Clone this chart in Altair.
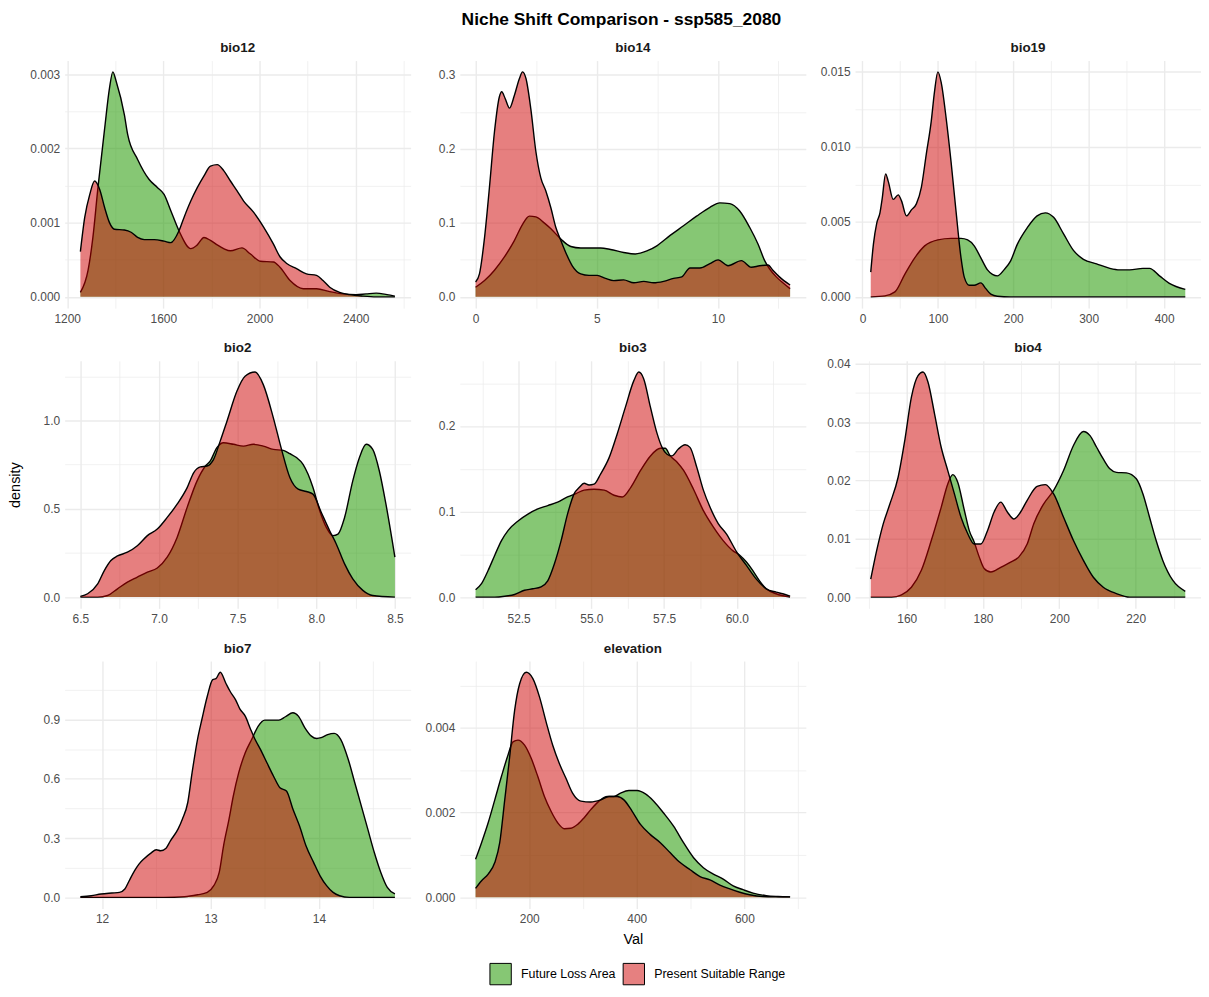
import math
import altair as alt
import pandas as pd

FONT = "Liberation Sans"
GROUPS = ["Future Loss Area", "Present Suitable Range"]
FILL_COLORS = ["#239902", "#CD0000"]
FILL_OPACITY = [0.55, 0.5]
LEGEND_COLORS = ["#86C774", "#E68080"]    # the same colours as seen over white

# ---------------- bio12 ----------------
BIO12_FUT_X = [1255, 1287, 1307, 1328, 1356, 1376, 1390, 1404, 1438, 1452, 1493, 1541, 1576, 1603, 1631, 1665,
               1714, 1741, 1769, 1796, 1824, 1851, 1879, 1927, 1961, 2003, 2058, 2085, 2127, 2182, 2237, 2292,
               2347, 2402, 2443, 2485, 2530, 2563]
BIO12_FUT_Y = [0.00006, 0.00036, 0.00080, 0.00147, 0.00227, 0.00281, 0.00303, 0.00290, 0.00245, 0.00218,
               0.00185, 0.00158, 0.00147, 0.00138, 0.00116, 0.00089, 0.00065, 0.00070, 0.00080, 0.00076,
               0.00070, 0.00065, 0.00062, 0.00066, 0.00058, 0.00048, 0.00047, 0.00040, 0.00022, 0.00011,
               0.00011, 0.00007, 0.00004, 0.00003, 0.00004, 0.00005, 0.00003, 0.00001]
BIO12_PRE_X = [1255, 1273, 1294, 1314, 1335, 1356, 1376, 1397, 1438, 1466, 1493, 1521, 1562, 1603, 1631, 1665,
               1686, 1714, 1741, 1769, 1796, 1824, 1851, 1879, 1906, 1934, 1975, 2017, 2058, 2085, 2113, 2154,
               2195, 2237, 2264, 2292, 2333, 2374, 2430, 2485, 2563]
BIO12_PRE_Y = [0.00061, 0.00107, 0.00138, 0.00156, 0.00145, 0.00120, 0.00100, 0.00091, 0.00090, 0.00087,
               0.00080, 0.00077, 0.00077, 0.00075, 0.00073, 0.00089, 0.00107, 0.00129, 0.00147, 0.00163,
               0.00176, 0.00178, 0.00170, 0.00156, 0.00143, 0.00129, 0.00114, 0.00094, 0.00071, 0.00054,
               0.00045, 0.00038, 0.00031, 0.00029, 0.00022, 0.00013, 0.00006, 0.00003, 0.00001, 0.0, 0.0]

# ---------------- bio14 ----------------
BIO14_FUT_X = [0, 0.37, 0.78, 1.19, 1.60, 1.94, 2.22, 2.49, 2.83, 3.11, 3.52, 3.93, 4.34, 4.75, 5.16, 5.57,
               6.11, 6.59, 7.07, 7.48, 8.03, 8.58, 9.12, 9.67, 10.08, 10.49, 10.90, 11.31, 11.66, 11.93, 12.13,
               12.41, 12.68, 12.98]
BIO14_FUT_Y = [0.013, 0.022, 0.036, 0.054, 0.076, 0.098, 0.109, 0.108, 0.100, 0.092, 0.078, 0.068, 0.066,
               0.066, 0.066, 0.064, 0.060, 0.058, 0.062, 0.069, 0.083, 0.096, 0.109, 0.121, 0.127, 0.126,
               0.116, 0.094, 0.071, 0.049, 0.038, 0.027, 0.019, 0.011]
BIO14_PRE_X = [0, 0.16, 0.37, 0.57, 0.78, 0.98, 1.08, 1.22, 1.40, 1.60, 1.81, 1.94, 2.08, 2.28, 2.49, 2.69,
               2.90, 3.11, 3.31, 3.52, 3.72, 3.99, 4.34, 4.68, 5.02, 5.36, 5.70, 6.11, 6.53, 6.94, 7.35, 7.76,
               8.17, 8.51, 8.85, 9.26, 9.67, 10.01, 10.42, 10.97, 11.38, 11.72, 12.07, 12.27, 12.54, 12.98]
BIO14_PRE_Y = [0.020, 0.031, 0.080, 0.147, 0.223, 0.270, 0.277, 0.268, 0.255, 0.272, 0.295, 0.304, 0.295,
               0.254, 0.196, 0.161, 0.143, 0.120, 0.094, 0.076, 0.060, 0.042, 0.031, 0.029, 0.029, 0.025,
               0.022, 0.023, 0.019, 0.021, 0.019, 0.021, 0.025, 0.027, 0.039, 0.039, 0.045, 0.050, 0.042,
               0.049, 0.040, 0.042, 0.043, 0.036, 0.027, 0.016]

# ---------------- bio19 ----------------
BIO19_FUT_X = [11, 29.8, 43, 56.1, 69.3, 82.5, 100, 117.5, 130.7, 139.5, 148.2, 157, 165.8, 172.4, 178.9,
               187.7, 196.5, 205.3, 218.4, 231.6, 242.5, 253.5, 266.7, 279.8, 293, 310.5, 328.1, 341.2, 354.4,
               371.9, 380.7, 393.9, 407, 428.1]
BIO19_FUT_Y = [0.0, 0.00007, 0.00033, 0.0015, 0.0026, 0.0034, 0.0038, 0.0039, 0.0039, 0.0038, 0.0034, 0.0026,
               0.0018, 0.0015, 0.0014, 0.0018, 0.0024, 0.0035, 0.0046, 0.0054, 0.0056, 0.0053, 0.0042, 0.0031,
               0.0025, 0.0022, 0.0019, 0.0018, 0.0018, 0.0019, 0.0019, 0.0014, 0.0009, 0.0005]
BIO19_PRE_X = [11, 14.5, 18.9, 23.2, 26.3, 30.7, 34.2, 40.8, 47.4, 51.8, 58.3, 64.9, 71.5, 78.1, 84.6, 91.2,
               95.6, 100, 104.4, 111, 117.5, 124.1, 130.7, 135.1, 141.7, 148.2, 157, 163.6, 170.2, 178.9,
               196.5, 250, 350, 428.1]
BIO19_PRE_Y = [0.00165, 0.0035, 0.0049, 0.0056, 0.0066, 0.0082, 0.0077, 0.0065, 0.0068, 0.0064, 0.0054,
               0.0058, 0.0062, 0.0073, 0.0095, 0.0117, 0.0137, 0.0150, 0.0143, 0.0119, 0.0090, 0.0057, 0.0026,
               0.0013, 0.00077, 0.00077, 0.00093, 0.00055, 0.00018, 0.00004, 0.0, 0.0, 0.0, 0.0]

# ---------------- bio2 ----------------
BIO2_FUT_X = [6.5, 6.61, 6.673, 6.736, 6.799, 6.862, 6.926, 6.989, 7.052, 7.115, 7.179, 7.242, 7.295, 7.326,
              7.368, 7.41, 7.474, 7.537, 7.6, 7.663, 7.727, 7.79, 7.832, 7.874, 7.916, 7.948, 7.979, 8.022,
              8.064, 8.106, 8.138, 8.18, 8.232, 8.274, 8.317, 8.359, 8.401, 8.443, 8.5]
BIO2_FUT_Y = [0.0, 0.0, 0.009, 0.047, 0.085, 0.113, 0.141, 0.165, 0.226, 0.338, 0.508, 0.658, 0.742, 0.771,
              0.846, 0.874, 0.865, 0.855, 0.865, 0.855, 0.836, 0.831, 0.812, 0.790, 0.752, 0.695, 0.620, 0.489,
              0.395, 0.348, 0.357, 0.451, 0.658, 0.789, 0.865, 0.836, 0.714, 0.526, 0.226]
BIO2_PRE_X = [6.5, 6.546, 6.61, 6.652, 6.694, 6.736, 6.799, 6.862, 6.926, 6.989, 7.052, 7.115, 7.179, 7.221,
              7.263, 7.305, 7.347, 7.389, 7.432, 7.495, 7.547, 7.611, 7.663, 7.727, 7.779, 7.832, 7.885, 7.937,
              7.979, 8.032, 8.085, 8.127, 8.18, 8.232, 8.296, 8.359, 8.5]
BIO2_PRE_Y = [0.004, 0.019, 0.075, 0.150, 0.207, 0.233, 0.254, 0.291, 0.348, 0.385, 0.451, 0.526, 0.620, 0.705,
              0.737, 0.742, 0.780, 0.883, 0.996, 1.165, 1.250, 1.274, 1.203, 1.015, 0.836, 0.677, 0.611, 0.598,
              0.583, 0.479, 0.376, 0.301, 0.188, 0.103, 0.038, 0.009, 0.0]

# ---------------- bio3 ----------------
BIO3_FUT_X = [51.02, 51.23, 51.45, 51.68, 51.91, 52.14, 52.48, 52.82, 53.16, 53.50, 53.84, 54.18, 54.47, 54.75,
              55.09, 55.44, 55.78, 56.06, 56.35, 56.69, 57.03, 57.37, 57.54, 57.71, 57.94, 58.17, 58.51, 58.85,
              59.19, 59.53, 59.87, 60.10, 60.33, 60.55, 60.78, 61.01, 61.35, 61.83]
BIO3_FUT_Y = [0.0086, 0.016, 0.031, 0.049, 0.066, 0.078, 0.089, 0.097, 0.103, 0.107, 0.111, 0.117, 0.121,
              0.125, 0.126, 0.125, 0.119, 0.117, 0.128, 0.148, 0.165, 0.174, 0.174, 0.165, 0.158, 0.148, 0.126,
              0.101, 0.082, 0.066, 0.054, 0.049, 0.041, 0.031, 0.019, 0.0097, 0.0039, 0.0]
BIO3_PRE_X = [51.02, 51.68, 52.02, 52.36, 52.70, 52.99, 53.27, 53.50, 53.73, 53.96, 54.18, 54.41, 54.58, 54.75,
              54.92, 55.09, 55.32, 55.61, 55.89, 56.17, 56.46, 56.63, 56.80, 57.03, 57.26, 57.43, 57.60, 57.77,
              57.99, 58.22, 58.39, 58.62, 58.85, 59.08, 59.36, 59.64, 59.99, 60.33, 60.67, 61.01, 61.35, 61.58,
              61.83]
BIO3_PRE_Y = [0.0, 0.0, 0.001, 0.003, 0.008, 0.0097, 0.012, 0.019, 0.039, 0.066, 0.097, 0.121, 0.128, 0.133,
              0.131, 0.132, 0.144, 0.163, 0.191, 0.222, 0.253, 0.263, 0.255, 0.222, 0.191, 0.175, 0.167, 0.165,
              0.173, 0.178, 0.175, 0.152, 0.125, 0.105, 0.086, 0.074, 0.053, 0.037, 0.021, 0.0097, 0.0058,
              0.0039, 0.0012]

# ---------------- bio4 ----------------
BIO4_FUT_X = [150.55, 156.01, 158.61, 161.21, 163.82, 166.42, 169.02, 170.75, 172.06, 173.36, 175.09, 176.39,
              177.69, 178.99, 180.29, 182.03, 184.63, 187.23, 189.4, 191.57, 193.3, 195.91, 198.51, 201.11,
              203.71, 206.31, 208.05, 209.78, 211.52, 213.25, 214.99, 217.59, 220.19, 221.93, 223.66, 225.39,
              227.13, 229.73, 233.03]
BIO4_FUT_Y = [0.0, 0.0, 0.0004, 0.0017, 0.0046, 0.0097, 0.0154, 0.0194, 0.0210, 0.0197, 0.0149, 0.0114,
              0.0094, 0.0069, 0.0049, 0.0043, 0.0051, 0.0060, 0.0069, 0.0091, 0.0126, 0.0160, 0.0183, 0.0217,
              0.0260, 0.0284, 0.0277, 0.0257, 0.0237, 0.0220, 0.0214, 0.0213, 0.0203, 0.0177, 0.0137, 0.0097,
              0.0063, 0.0029, 0.0010]
BIO4_PRE_X = [150.55, 152.11, 153.84, 155.58, 157.74, 159.48, 161.21, 162.95, 164.25, 165.55, 167.29, 169.02,
              170.75, 172.49, 174.22, 175.96, 177.69, 179.43, 181.16, 182.9, 184.63, 186.37, 188.1, 189.84,
              191.57, 194.17, 196.34, 198.51, 201.11, 203.71, 206.31, 208.92, 211.52, 214.99, 218.46, 233.03]
BIO4_PRE_Y = [0.0031, 0.0080, 0.0126, 0.0160, 0.0206, 0.0269, 0.0343, 0.0380, 0.0386, 0.0369, 0.0314, 0.0257,
              0.0217, 0.0177, 0.0137, 0.0109, 0.0091, 0.0091, 0.0114, 0.0146, 0.0163, 0.0146, 0.0134, 0.0146,
              0.0166, 0.0190, 0.0193, 0.0177, 0.0137, 0.0097, 0.0063, 0.0034, 0.0017, 0.0006, 0.0, 0.0]

# ---------------- bio7 ----------------
BIO7_FUT_X = [11.80, 12.57, 12.76, 12.88, 12.97, 13.03, 13.08, 13.12, 13.17, 13.21, 13.26, 13.32, 13.38, 13.44,
              13.50, 13.56, 13.63, 13.69, 13.76, 13.81, 13.87, 13.93, 13.98, 14.02, 14.08, 14.14, 14.20, 14.27,
              14.33, 14.39, 14.45, 14.51, 14.57, 14.63, 14.70]
BIO7_FUT_Y = [0.0, 0.0, 0.003, 0.013, 0.025, 0.059, 0.126, 0.261, 0.395, 0.513, 0.631, 0.732, 0.800, 0.867,
              0.897, 0.897, 0.897, 0.914, 0.934, 0.917, 0.858, 0.816, 0.804, 0.808, 0.824, 0.830, 0.800, 0.698,
              0.580, 0.463, 0.345, 0.227, 0.126, 0.050, 0.017]
BIO7_PRE_X = [11.80, 11.90, 11.99, 12.09, 12.16, 12.21, 12.25, 12.30, 12.34, 12.39, 12.45, 12.50, 12.54, 12.59,
              12.63, 12.70, 12.74, 12.79, 12.83, 12.88, 12.92, 12.97, 13.02, 13.05, 13.09, 13.14, 13.18, 13.23,
              13.27, 13.32, 13.37, 13.41, 13.46, 13.52, 13.58, 13.64, 13.70, 13.76, 13.82, 13.88, 13.95, 14.01,
              14.07, 14.13, 14.19, 14.28, 14.70]
BIO7_PRE_Y = [0.003, 0.008, 0.017, 0.022, 0.025, 0.042, 0.084, 0.135, 0.168, 0.197, 0.224, 0.241, 0.236, 0.249,
              0.286, 0.345, 0.395, 0.480, 0.631, 0.800, 0.900, 1.018, 1.102, 1.107, 1.139, 1.085, 1.043, 1.001,
              0.954, 0.917, 0.850, 0.800, 0.749, 0.681, 0.614, 0.555, 0.538, 0.446, 0.362, 0.261, 0.177, 0.109,
              0.059, 0.025, 0.008, 0.0, 0.0]

# ---------------- elevation ----------------
ELEV_FUT_X = [100.3, 111.4, 123.7, 136, 148.3, 160.6, 169.8, 179.1, 191.4, 203.7, 216, 228.3, 240.6, 252.9,
              265.2, 277.5, 289.8, 302.2, 314.5, 329.8, 345.2, 357.5, 369.8, 385.2, 400.6, 416, 431.4, 449.8,
              468.3, 486.8, 505.2, 523.7, 542.2, 560.6, 579.1, 597.5, 616, 640.6, 662.2, 684.9]
ELEV_FUT_Y = [0.00090, 0.00129, 0.00176, 0.00230, 0.00285, 0.00336, 0.00367, 0.00371, 0.00359, 0.00328,
              0.00285, 0.00238, 0.00203, 0.00176, 0.00162, 0.00163, 0.00172, 0.00188, 0.00207, 0.00227,
              0.00238, 0.00238, 0.00246, 0.00252, 0.00252, 0.00244, 0.00227, 0.00199, 0.00168, 0.00129,
              0.00094, 0.00070, 0.00055, 0.00043, 0.00027, 0.00018, 0.00010, 0.00004, 0.00002, 0.00001]
ELEV_PRE_X = [100.3, 111.4, 123.7, 136, 145.2, 154.5, 163.7, 172.9, 182.2, 194.5, 206.8, 219.1, 231.4, 243.7,
              256, 268.3, 280.6, 296, 314.5, 332.9, 348.3, 363.7, 376, 391.4, 406.8, 425.2, 443.7, 462.2, 480.6,
              499.1, 517.5, 536, 554.5, 572.9, 591.4, 609.8, 634.5, 684.9]
ELEV_PRE_Y = [0.00021, 0.00039, 0.00055, 0.00082, 0.00129, 0.00230, 0.00332, 0.00441, 0.00504, 0.00531,
              0.00516, 0.00473, 0.00414, 0.00359, 0.00316, 0.00281, 0.00246, 0.00227, 0.00225, 0.00230,
              0.00238, 0.00238, 0.00230, 0.00203, 0.00172, 0.00148, 0.00129, 0.00105, 0.00082, 0.00065,
              0.00049, 0.00041, 0.00029, 0.00020, 0.00012, 0.00006, 0.00002, 0.00001]

PANEL_W = 348
PANEL_H = 249


def grid_values(lo, hi, step):
    k0 = math.ceil(lo / step - 1e-9)
    k1 = math.floor(hi / step + 1e-9)
    return [round(k * step, 10) for k in range(k0, k1 + 1)]


def make_axis(vals, major, fmt, title, extra=None):
    test = f"abs(datum.value / {major} - round(datum.value / {major})) < 1e-6"
    kw = dict(
        values=vals,
        labelExpr=f"({test}) ? format(datum.value, '{fmt}') : ''",
        grid=True,
        gridColor="#EBEBEB",
        gridWidth={"condition": {"test": test, "value": 1.4}, "value": 0.7},
        ticks=False,
        domain=False,
        labelColor="#4D4D4D",
        labelFont=FONT,
        labelFontSize=12,
        labelPadding=5,
        labelOverlap=False,
        labelFlush=False,
        title=title,
        titleFont=FONT,
        titleFontSize=14.5,
        titleFontWeight="normal",
        titleColor="black",
        titlePadding=6,
    )
    if extra:
        kw.update(extra)
    return alt.Axis(**kw)


LEGEND = alt.Legend(
    title=None,
    orient="none",
    legendX=427,
    legendY=907,
    direction="horizontal",
    symbolType="square",
    symbolSize=462,
    symbolStrokeColor="black",
    symbolStrokeWidth=1,
    symbolOpacity=1,
    labelFont=FONT,
    labelFontSize=12.5,
    labelColor="black",
    labelOffset=9,
    columnPadding=4,
)


def make_panel(name, fx, fy, px, py, xmajor, ymajor, xfmt, yfmt, xtitle=None, ytitle=None, yextra=None,
               xextra=None, title_offset=6):
    fut = pd.DataFrame({"Val": fx, "density": fy, "group": GROUPS[0]})
    pre = pd.DataFrame({"Val": px, "density": py, "group": GROUPS[1]})
    allx = list(fx) + list(px)
    ally = list(fy) + list(py)
    x0, x1 = min(allx), max(allx)
    xpad = 0.05 * (x1 - x0)
    xdom = [x0 - xpad, x1 + xpad]
    ymax = max(ally)
    ydom = [-0.05 * ymax, 1.05 * ymax]
    xaxis = make_axis(grid_values(xdom[0], xdom[1], xmajor / 2), xmajor, xfmt, xtitle, xextra)
    yaxis = make_axis(grid_values(ydom[0], ydom[1], ymajor / 2), ymajor, yfmt, ytitle, yextra)
    xenc = alt.X("Val:Q", scale=alt.Scale(domain=xdom, nice=False, zero=False), axis=xaxis)
    yenc = alt.Y("density:Q", scale=alt.Scale(domain=ydom, nice=False, zero=False), axis=yaxis, stack=None)
    colorenc = alt.Color("group:N", scale=alt.Scale(domain=GROUPS, range=LEGEND_COLORS), legend=LEGEND)

    layers = []
    for df, col, op in ((fut, FILL_COLORS[0], FILL_OPACITY[0]), (pre, FILL_COLORS[1], FILL_OPACITY[1])):
        base = alt.Chart(df)
        layers.append(base.mark_area(fill=col, fillOpacity=op, interpolate="monotone").encode(
            x=xenc, y=yenc, y2=alt.datum(0)))
        layers.append(base.mark_line(color="black", strokeWidth=1.4, interpolate="monotone").encode(
            x=xenc, y=yenc))
    # invisible layer that only carries the legend (swatches as seen on screen)
    layers.append(alt.Chart(pd.concat([fut, pre])).mark_area(opacity=0, interpolate="monotone").encode(
        x=xenc, y=yenc, y2=alt.datum(0), color=colorenc))
    return alt.layer(*layers).properties(
        width=PANEL_W, height=PANEL_H,
        title=alt.TitleParams(name, font=FONT, fontSize=13.5, fontWeight="bold", color="#1A1A1A",
                              anchor="middle", offset=title_offset),
    )


panels = [
    make_panel("bio12", BIO12_FUT_X, BIO12_FUT_Y, BIO12_PRE_X, BIO12_PRE_Y, 400, 0.001, "d", ".3f"),
    make_panel("bio14", BIO14_FUT_X, BIO14_FUT_Y, BIO14_PRE_X, BIO14_PRE_Y, 5, 0.1, "d", ".1f"),
    make_panel("bio19", BIO19_FUT_X, BIO19_FUT_Y, BIO19_PRE_X, BIO19_PRE_Y, 100, 0.005, "d", ".3f"),
    make_panel("bio2", BIO2_FUT_X, BIO2_FUT_Y, BIO2_PRE_X, BIO2_PRE_Y, 0.5, 0.5, ".1f", ".1f",
               ytitle="density", yextra={"minExtent": 36}),
    make_panel("bio3", BIO3_FUT_X, BIO3_FUT_Y, BIO3_PRE_X, BIO3_PRE_Y, 2.5, 0.1, ".1f", ".1f"),
    make_panel("bio4", BIO4_FUT_X, BIO4_FUT_Y, BIO4_PRE_X, BIO4_PRE_Y, 20, 0.01, "d", ".2f", title_offset=3),
    make_panel("bio7", BIO7_FUT_X, BIO7_FUT_Y, BIO7_PRE_X, BIO7_PRE_Y, 1, 0.3, "d", ".1f"),
    make_panel("elevation", ELEV_FUT_X, ELEV_FUT_Y, ELEV_PRE_X, ELEV_PRE_Y, 200, 0.002, "d", ".3f",
               xtitle="Val", xextra={"titlePadding": 8}),
]

chart = alt.concat(*panels, columns=3, spacing={"row": 17, "column": 13.5}).resolve_scale(
    x="independent", y="independent", color="shared"
).resolve_legend(color="shared").properties(
    title=alt.TitleParams("Niche Shift Comparison - ssp585_2080", font=FONT, fontSize=17.5,
                          fontWeight="bold", color="black", anchor="middle", offset=12.5, dx=17),
    padding={"left": 0, "top": 0, "right": 0, "bottom": 0},
    background="white",
).configure_view(strokeWidth=0)

chart.save("out.html", embed_options={"renderer": "svg", "actions": False})
